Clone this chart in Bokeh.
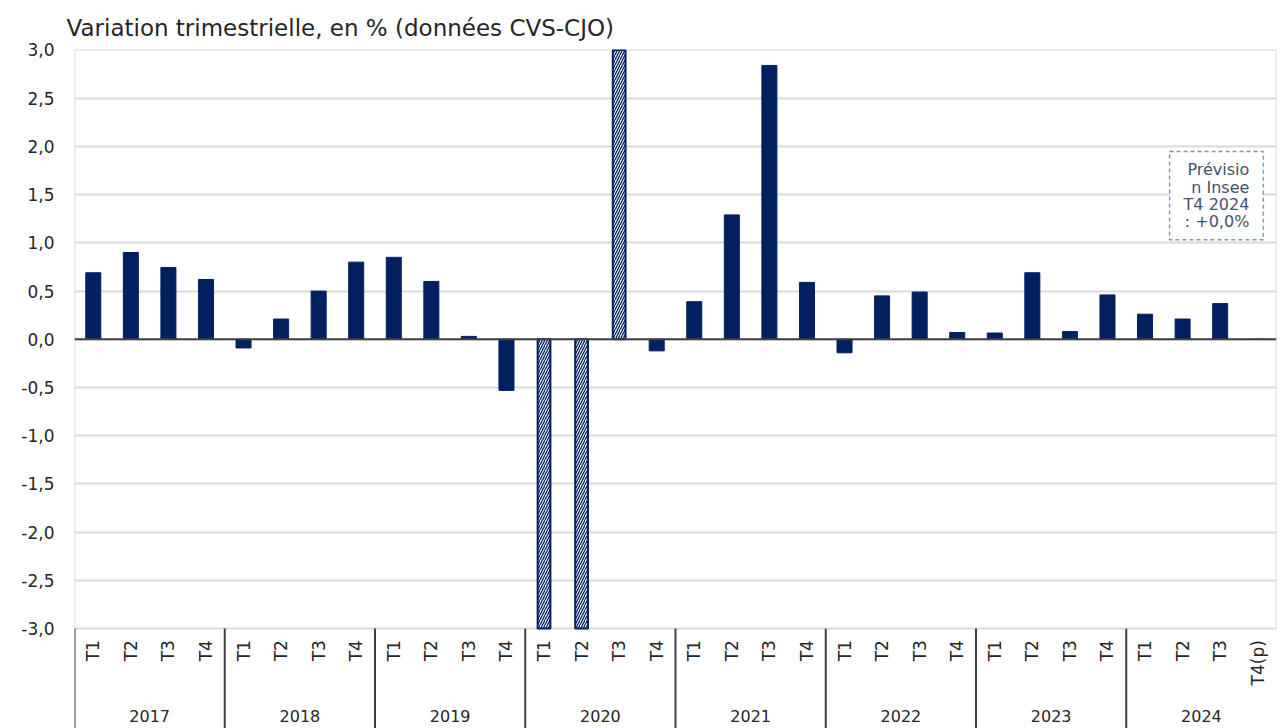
import numpy as np
from bokeh.plotting import figure
from bokeh.models import Range1d, FixedTicker, CustomJSTickFormatter, Label, ColumnDataSource
from bokeh.core.properties import value
from bokeh.embed import file_html
from bokeh.resources import INLINE

# ---- data ----
years = ["2017", "2018", "2019", "2020", "2021", "2022", "2023", "2024"]
quarter_labels = ["T1", "T2", "T3", "T4",
                  "T1", "T2", "T3", "T4",
                  "T1", "T2", "T3", "T4",
                  "T1", "T2", "T3", "T4",
                  "T1", "T2", "T3", "T4",
                  "T1", "T2", "T3", "T4",
                  "T1", "T2", "T3", "T4",
                  "T1", "T2", "T3", "T4(p)"]
variation = [0.69, 0.90, 0.745, 0.62,
             -0.09, 0.21, 0.50, 0.80,
             0.85, 0.60, 0.03, -0.53,
             -5.9, -13.5, 18.5, -0.12,
             0.39, 1.29, 2.84, 0.59,
             -0.14, 0.45, 0.49, 0.07,
             0.065, 0.69, 0.08, 0.46,
             0.26, 0.21, 0.37, 0.0]
hors_echelle = [False, False, False, False,
                False, False, False, False,
                False, False, False, False,
                True, True, True, False,
                False, False, False, False,
                False, False, False, False,
                False, False, False, False,
                False, False, False, False]
y_ticks = [-3.0, -2.5, -2.0, -1.5, -1.0, -0.5, 0.0, 0.5, 1.0, 1.5, 2.0, 2.5, 3.0]
title_text = "Variation trimestrielle, en % (données CVS-CJO)"
note_text = "Prévisio\nn Insee\nT4 2024\n: +0,0%"

NAVY = "#002060"
FONT = "DejaVu Sans"
TXT = "#262626"

n = len(variation)
idx = np.arange(n)
ymin, ymax = y_ticks[0], y_ticks[-1]
shown = np.clip(np.array(variation), ymin, ymax)
flag = np.array(hors_echelle)
y_bottom = -4.036

p = figure(width=1280, height=728, output_backend="svg", toolbar_location=None,
           x_range=Range1d(-0.5, n - 0.5), y_range=Range1d(y_bottom, 3.005),
           min_border_left=74, min_border_right=4, min_border_top=49, min_border_bottom=0)
p.outline_line_color = None
p.xaxis.visible = False
p.xgrid.visible = False
p.background_fill_color = "white"

p.title.text = title_text
p.title.text_font = FONT
p.title.text_font_size = "23px"
p.title.text_font_style = "normal"
p.title.text_color = TXT
p.title.align = "left"
p.title.offset = -8
p.title.standoff = 18

p.yaxis.ticker = FixedTicker(ticks=y_ticks)
p.yaxis.formatter = CustomJSTickFormatter(code="return tick.toFixed(1).replace('.', ',');")
p.yaxis.major_label_text_font = FONT
p.yaxis.major_label_text_font_size = "17px"
p.yaxis.major_label_text_color = TXT
p.yaxis.major_tick_line_color = None
p.yaxis.minor_tick_line_color = None
p.yaxis.axis_line_color = None
p.yaxis.major_label_standoff = 14
p.ygrid.grid_line_color = "#d9d9d9"
p.ygrid.grid_line_width = 2

# frame side lines (left / right) within the value area
p.segment(x0=[-0.5, n - 0.5], y0=[ymin, ymin], x1=[-0.5, n - 0.5], y1=[ymax, ymax],
          line_color="#d9d9d9", line_width=2)

# bars
solid = ColumnDataSource(dict(x=idx[~flag], top=shown[~flag]))
hatched = ColumnDataSource(dict(x=idx[flag], top=shown[flag]))
p.vbar(x="x", top="top", bottom=0, width=0.4, source=solid,
       fill_color=NAVY, line_color=NAVY, line_width=1)
p.vbar(x="x", top="top", bottom=0, width=0.34, source=hatched,
       fill_color="white", line_color=NAVY, line_width=2,
       hatch_pattern="/", hatch_color=NAVY, hatch_scale=5, hatch_weight=1.3)

# zero line
p.segment(x0=[-0.5], y0=[0], x1=[n - 0.5], y1=[0], line_color="#404040", line_width=2)

# category axis (drawn below value area)
sep_x = [4 * k - 0.5 for k in range(len(years))]
p.segment(x0=sep_x, y0=[ymin] * len(sep_x), x1=sep_x, y1=[y_bottom] * len(sep_x),
          line_color="#404040", line_width=2)
p.text(x=idx, y=[ymin - 0.12] * n, text=quarter_labels, angle=np.pi / 2,
       text_align="right", text_baseline="middle",
       text_font=value(FONT), text_font_size="17px", text_color=TXT)
p.text(x=[4 * k + 1.5 for k in range(len(years))], y=[ymin - 0.91] * len(years), text=years,
       text_align="center", text_baseline="middle",
       text_font=value(FONT), text_font_size="16px", text_color=TXT)

# note box
note = Label(x=31.15, y=1.49, x_units="data", y_units="data", text=note_text,
             text_align="right", text_baseline="middle",
             text_font=FONT, text_font_size="16px", text_color="#44546a",
             text_line_height=0.9,
             border_line_color="#8497b0", border_line_dash="4 3", border_line_width=1.5,
             background_fill_color="white", padding=(14, 9))
p.add_layout(note)

open("out.html", "w").write(file_html(p, INLINE))
